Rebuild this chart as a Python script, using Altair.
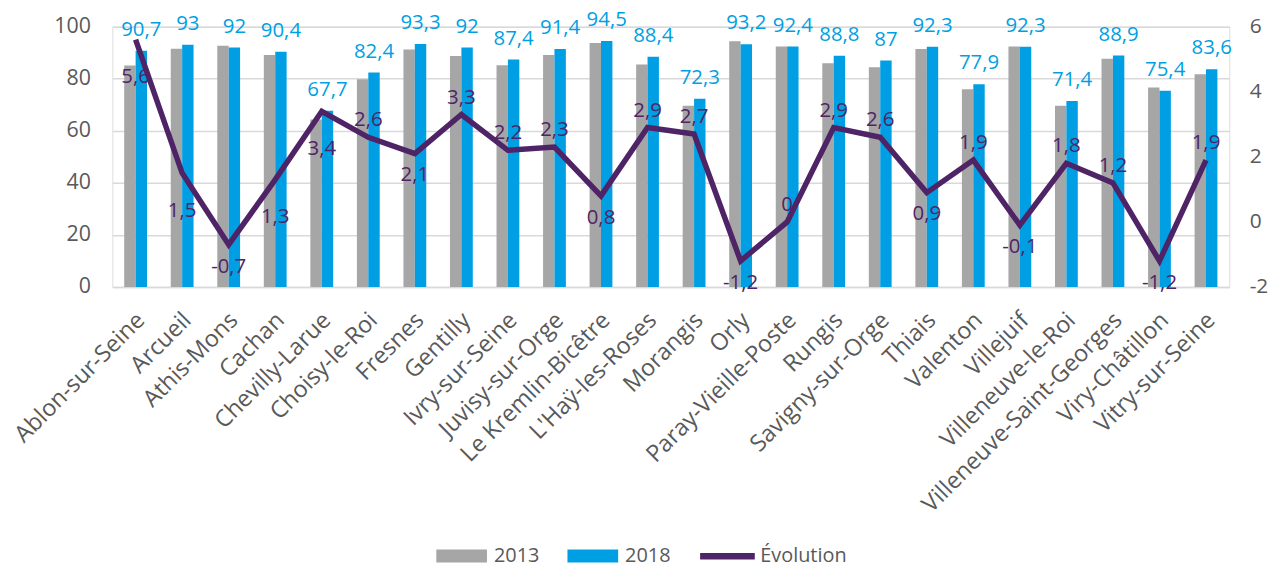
import altair as alt
import pandas as pd

communes = ["Ablon-sur-Seine", "Arcueil", "Athis-Mons", "Cachan", "Chevilly-Larue",
            "Choisy-le-Roi", "Fresnes", "Gentilly", "Ivry-sur-Seine", "Juvisy-sur-Orge",
            "Le Kremlin-Bicêtre", "L'Haÿ-les-Roses", "Morangis", "Orly", "Paray-Vieille-Poste",
            "Rungis", "Savigny-sur-Orge", "Thiais", "Valenton", "Villejuif",
            "Villeneuve-le-Roi", "Villeneuve-Saint-Georges", "Viry-Châtillon", "Vitry-sur-Seine"]
values_2013 = [85.1, 91.5, 92.7, 89.1, 64.3, 79.8, 91.2, 88.7, 85.2, 89.1, 93.7, 85.5,
               69.6, 94.4, 92.4, 85.9, 84.4, 91.4, 76.0, 92.4, 69.6, 87.7, 76.6, 81.7]
values_2018 = [90.7, 93, 92, 90.4, 67.7, 82.4, 93.3, 92, 87.4, 91.4, 94.5, 88.4,
               72.3, 93.2, 92.4, 88.8, 87, 92.3, 77.9, 92.3, 71.4, 88.9, 75.4, 83.6]
evolution = [5.6, 1.5, -0.7, 1.3, 3.4, 2.6, 2.1, 3.3, 2.2, 2.3, 0.8, 2.9,
             2.7, -1.2, 0, 2.9, 2.6, 0.9, 1.9, -0.1, 1.8, 1.2, -1.2, 1.9]
left_ticks = [0, 10, 20, 30, 40, 50, 60, 70, 80, 90, 100]
right_ticks = [-2, -1, 0, 1, 2, 3, 4, 5, 6]

# label placement style for the evolution labels (like Excel's label positions)
label_side = ["far", "far", "below", "far", "far", "above", "below", "above", "above", "above",
              "below", "above", "above", "below", "above", "above", "above", "below", "above",
              "below", "above", "above", "below", "above"]

GRAY = "#A6A6A6"
BLUE = "#009FE3"
PURPLE = "#4F2466"
TXT = "#595959"
GRID = "#D9D9D9"
FONT = "Open Sans"


def fr(v):
    s = ("%.1f" % v).rstrip("0").rstrip(".")
    return s.replace(".", ",")


rows = []
for c, a, b in zip(communes, values_2013, values_2018):
    rows.append({"commune": c, "year": "2013", "value": a, "label": fr(a)})
    rows.append({"commune": c, "year": "2018", "value": b, "label": fr(b)})
bars_df = pd.DataFrame(rows)

line_df = pd.DataFrame({
    "commune": communes,
    "evo": evolution,
    "label": [fr(v) for v in evolution],
    "side": label_side,
    "series": ["Évolution"] * len(communes),
})

x_enc = alt.X(
    "commune:N", sort=communes, title=None,
    scale=alt.Scale(paddingInner=0.51, paddingOuter=0.255),
    axis=alt.Axis(labelAngle=-45, labelFontSize=23.5, labelColor=TXT, labelFont=FONT,
                  labelPadding=21, labelOffset=-3, labelLimit=0, labelOverlap=False,
                  ticks=False, domainColor=GRID, domainWidth=1.5, grid=False),
)
xo_enc = alt.XOffset("year:N", sort=["2013", "2018"])

y_left = alt.Y(
    "value:Q", title=None, scale=alt.Scale(domain=[0, 100], nice=False),
    axis=alt.Axis(values=left_ticks, labelFontSize=21.5, labelColor=TXT, labelFont=FONT,
                  labelPadding=22, labelOverlap=False, ticks=False, domain=False, grid=True,
                  gridColor=GRID, gridWidth=1.5),
)

bars = alt.Chart(bars_df).mark_bar().encode(
    x=x_enc,
    xOffset=xo_enc,
    y=y_left,
    color=alt.Color(
        "year:N",
        scale=alt.Scale(domain=["2013", "2018"], range=[GRAY, BLUE]),
        legend=alt.Legend(
            title=None, orient="none", legendX=326, legendY=507, direction="horizontal",
            symbolType="M-1,-0.255H1V0.255H-1Z", symbolSize=2601, symbolStrokeWidth=0,
            labelFontSize=20, labelColor=TXT, labelFont=FONT, labelOffset=7,
            columnPadding=28,
        ),
    ),
)

bar_labels = alt.Chart(bars_df).transform_filter(alt.datum.year == "2018").mark_text(
    fontSize=20.5, font=FONT, color=BLUE, baseline="middle", dy=-21
).encode(
    x=alt.X("commune:N", sort=communes),
    xOffset=xo_enc,
    y=alt.Y("value:Q"),
    text="label:N",
)

bar_layer = alt.layer(bars, bar_labels)

y_right = alt.Y(
    "evo:Q", title=None, scale=alt.Scale(domain=[-2, 6], nice=False),
    axis=alt.Axis(orient="right", values=right_ticks, labelFontSize=21, labelColor=TXT,
                  labelFont=FONT, labelPadding=20, labelOverlap=False, ticks=False,
                  domain=False, grid=False, labelExpr="'' + datum.value"),
)

line = alt.Chart(line_df).mark_line(strokeWidth=5.5).encode(
    x=alt.X("commune:N", sort=communes),
    y=y_right,
    stroke=alt.Stroke(
        "series:N",
        scale=alt.Scale(domain=["Évolution"], range=[PURPLE]),
        legend=alt.Legend(
            title=None, orient="none", legendX=588, legendY=502, symbolType="stroke",
            symbolSize=3025, symbolStrokeWidth=6.5, labelFontSize=20, labelColor=TXT,
            labelFont=FONT, labelOffset=2,
        ),
    ),
)


def evo_labels(side, dy):
    return alt.Chart(line_df).transform_filter(alt.datum.side == side).mark_text(
        fontSize=20.5, font=FONT, color=PURPLE, baseline="middle", dy=dy
    ).encode(
        x=alt.X("commune:N", sort=communes),
        y=alt.Y("evo:Q"),
        text="label:N",
    )


line_layer = alt.layer(line, evo_labels("above", -17), evo_labels("below", 22),
                       evo_labels("far", 38))

chart = alt.layer(bar_layer, line_layer).resolve_scale(
    y="independent"
).properties(
    width=1124, height=262,
    autosize=alt.AutoSizeParams(type="none"),
    padding={"left": 105, "top": 17, "right": 44, "bottom": 279},
).configure_view(stroke=None).configure(font=FONT)

chart.save("out.html", embed_options={"renderer": "svg", "actions": False})
